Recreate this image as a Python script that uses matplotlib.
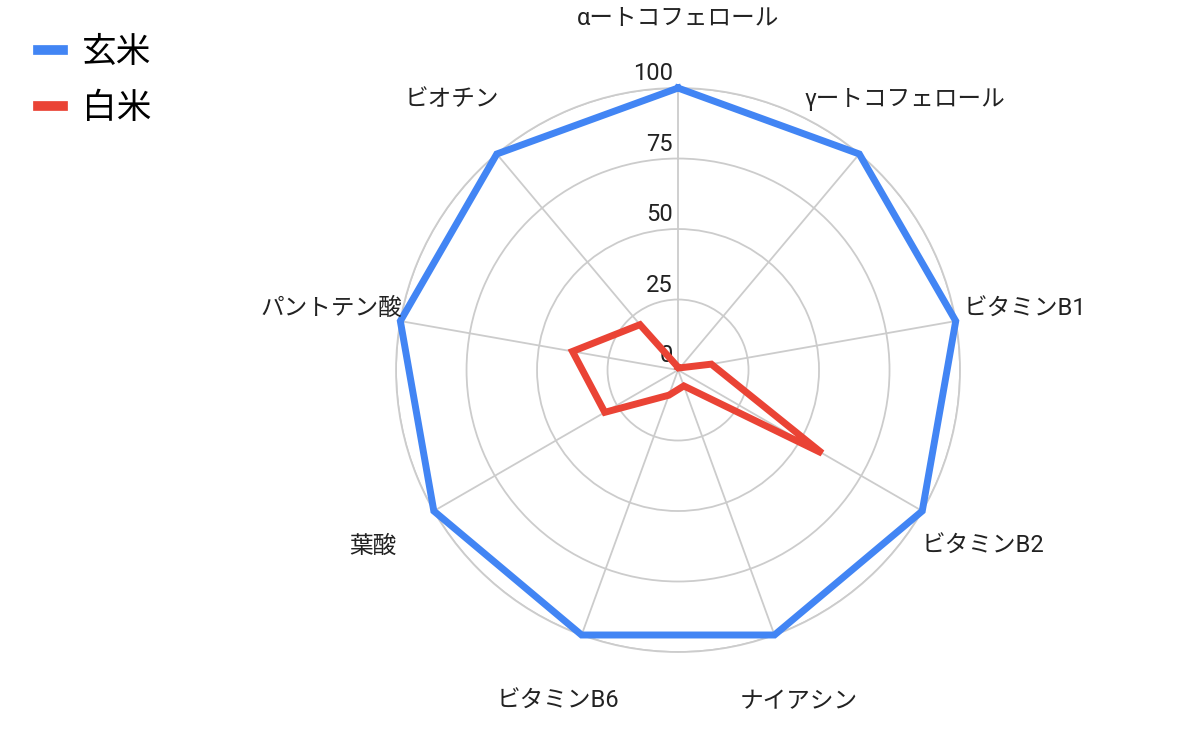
import numpy as np
import matplotlib
matplotlib.use("Agg")
import matplotlib.pyplot as plt
from matplotlib.lines import Line2D
from matplotlib.transforms import offset_copy

plt.rcParams['font.family'] = ['Roboto', 'Noto Sans CJK JP', 'DejaVu Sans']

# data
categories = ['αートコフェロール', 'γートコフェロール', 'ビタミンB1', 'ビタミンB2',
              'ナイアシン', 'ビタミンB6', '葉酸', 'パントテン酸', 'ビオチン']
genmai = [100, 100, 100, 100, 100, 100, 100, 100, 100]
hakumai = [1, 1, 12, 59, 6, 9.5, 30, 38, 21]
series_names = ['玄米', '白米']
ticks = [0, 25, 50, 75, 100]

blue = '#4285F4'
red = '#EA4335'
grid_c = '#cccccc'

n = len(categories)
angles = np.arange(n) * 2 * np.pi / n
angles_c = np.append(angles, angles[0])

fig = plt.figure(figsize=(11.99, 7.41), dpi=100)
ax = fig.add_axes([0.3303, 0.1201, 0.4704, 0.7611], projection='polar')
ax.set_theta_zero_location('N')
ax.set_theta_direction(-1)
ax.set_ylim(0, 100)

ax.set_xticks(angles)
ax.set_xticklabels([])
ax.set_yticks(ticks[1:])
ax.set_yticklabels([])
ax.grid(True, color=grid_c, linewidth=1.3)
ax.spines['polar'].set_color(grid_c)
ax.spines['polar'].set_linewidth(1.3)
ax.tick_params(length=0)

ax.plot(angles_c, np.append(genmai, genmai[0]), color=blue, linewidth=5,
        solid_joinstyle='miter', zorder=3, clip_on=False)
ax.plot(angles_c, np.append(hakumai, hakumai[0]), color=red, linewidth=5,
        solid_joinstyle='miter', zorder=4)

# radial tick labels
trans = offset_copy(ax.transData, fig=fig, x=-5, y=3, units='dots')
for t in ticks:
    ax.text(0, t, str(t), transform=trans, ha='right', va='bottom',
            fontsize=17, color='#222222', zorder=2)

# category labels
for a, lab in zip(angles, categories):
    ax.text(a, 125, lab, ha='center', va='center', fontsize=17,
            color='#222222', clip_on=False)

handles = [Line2D([], [], color=blue, linewidth=7),
           Line2D([], [], color=red, linewidth=7)]
fig.legend(handles, series_names, loc='upper left', bbox_to_anchor=(0.006, 0.994),
           frameon=False, fontsize=25, handlelength=0.7, handletextpad=0.55,
           labelspacing=0.68)

fig.savefig('out.png', dpi=100)
